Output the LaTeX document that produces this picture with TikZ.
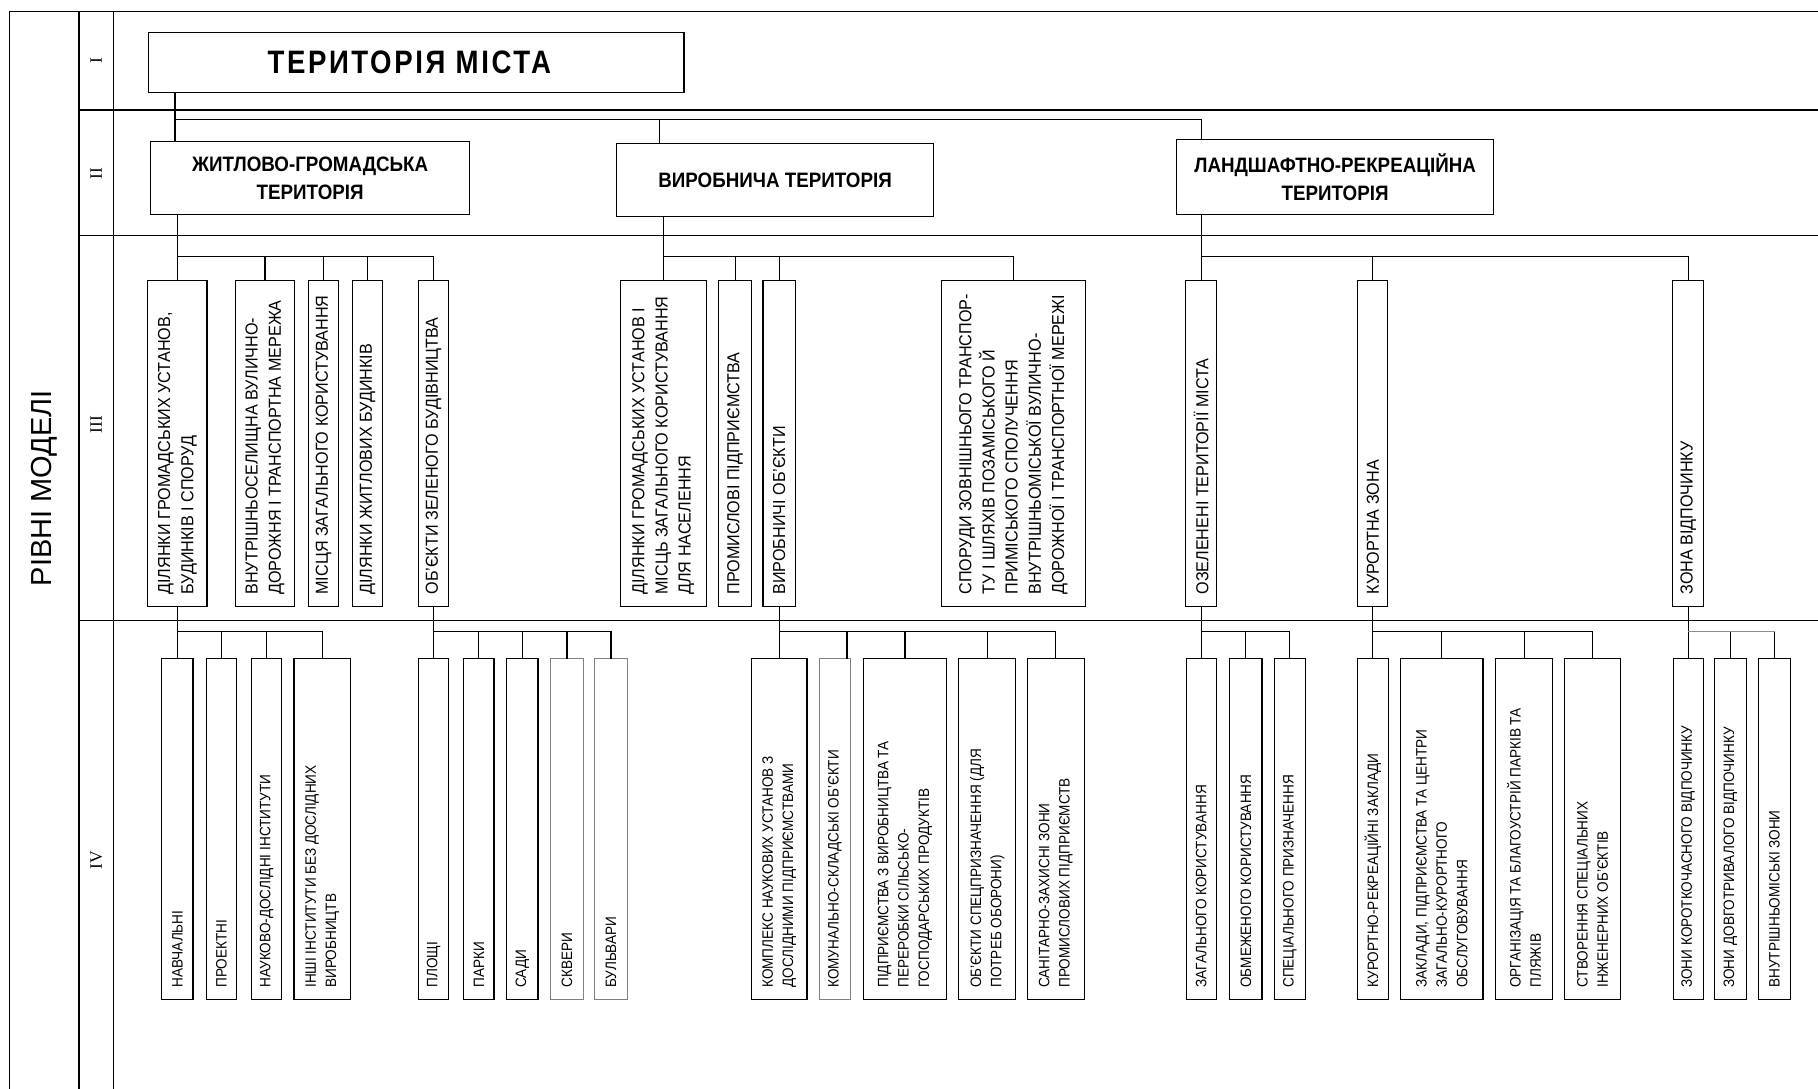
\documentclass[tikz,border=0pt]{standalone}
\usepackage{fontspec}
\setmainfont{Liberation Sans}
\newfontfamily\nrw[FakeStretch=0.9]{Liberation Sans}
\newfontfamily\nrwc[FakeStretch=0.93]{Liberation Sans}
\newfontfamily\ttlfont[FakeStretch=0.85,LetterSpace=8]{Liberation Sans}
\newfontfamily\serifrm{Liberation Serif}
\usetikzlibrary{calc}
\begin{document}
\begin{tikzpicture}[x=1pt,y=-1pt,
  frame/.style={line width=1.2pt},
  box/.style={draw=black, line width=1pt, fill=white, inner sep=0pt, outer sep=0pt},
  gbox/.style={box, draw=black!50},
  l3/.style={box, minimum height=281pt},
  l4/.style={box, minimum height=294pt},
  gl4/.style={gbox, minimum height=294pt},
  conn/.style={line width=1pt},
  gconn/.style={line width=1pt, draw=black!45},
  t2/.style={align=center, font=\nrw\bfseries\fontsize{18}{24}\selectfont},
  t3/.style={rotate=90, anchor=west, align=left, inner sep=0pt, font=\nrwc\fontsize{15}{20}\selectfont},
  t4/.style={rotate=90, anchor=west, align=left, inner sep=0pt, font=\nrw\fontsize{13}{17.5}\selectfont},
  rn/.style={rotate=90, font=\serifrm\fontsize{15}{15}\selectfont},
]
\useasboundingbox (0,0) rectangle (1568,939);
% ---------- frame ----------
\draw[frame] (1568,10) -- (8,10) -- (8,939);
\draw[frame] (68,10) -- (68,939);
\draw[frame] (98,10) -- (98,939);
\draw[frame] (68,95) -- (1568,95);
\draw[frame] (68,203) -- (1568,203);
\draw[frame] (68,535) -- (1568,535);
\node[rotate=90, font=\fontsize{25}{25}\selectfont] (lvl) at (38,421) {РІВНІ МОДЕЛІ};
\node[rn] (r1) at (83,52) {I};
\node[rn] (r2) at (83,150) {II};
\node[rn] (r3) at (83,366) {III};
\node[rn] (r4) at (83,742) {IV};
% ---------- level I ----------
\node[box, minimum width=462pt, minimum height=52pt, font=\ttlfont\bfseries\fontsize{28}{28}\selectfont] (T) at (359,54) {\hspace*{-12pt}ТЕРИТОРІЯ МІСТА};
% ---------- level II ----------
\node[box, t2, minimum width=275pt, minimum height=63pt] (L2a) at (267.5,153.5) {ЖИТЛОВО-ГРОМАДСЬКА\\ТЕРИТОРІЯ};
\node[box, t2, minimum width=273pt, minimum height=63pt] (L2b) at (668.5,155.5) {ВИРОБНИЧА ТЕРИТОРІЯ};
\node[box, t2, minimum width=273pt, minimum height=65pt] (L2c) at (1151.5,152.5) {ЛАНДШАФТНО-РЕКРЕАЦІЙНА\\ТЕРИТОРІЯ};
% ---------- level III ----------
\node[l3, minimum width=51pt] (a1) at (153,382.5) {};
\node[l3, minimum width=51pt] (a2) at (228.5,382.5) {};
\node[l3, minimum width=26pt] (a3) at (279,382.5) {};
\node[l3, minimum width=26pt] (a4) at (317,382.5) {};
\node[l3, minimum width=26pt] (a5) at (374,382.5) {};
\node[l3, minimum width=74pt] (b1) at (572,382.5) {};
\node[l3, minimum width=28pt] (b2) at (634,382.5) {};
\node[l3, minimum width=28pt] (b3) at (672,382.5) {};
\node[l3, minimum width=124pt] (b4) at (874,382.5) {};
\node[l3, minimum width=27pt] (c1) at (1036,382.5) {};
\node[l3, minimum width=26pt] (c2) at (1184,382.5) {};
\node[l3, minimum width=27pt] (c3) at (1456,382.5) {};
\node[t3] (a1t) at ([yshift=10pt]a1.south) {ДІЛЯНКИ ГРОМАДСЬКИХ УСТАНОВ,\\БУДИНКІВ І СПОРУД};
\node[t3] (a2t) at ([yshift=10pt]a2.south) {ВНУТРІШНЬОСЕЛИЩНА ВУЛИЧНО-\\ДОРОЖНЯ І ТРАНСПОРТНА МЕРЕЖА};
\node[t3] (a3t) at ([yshift=10pt]a3.south) {МІСЦЯ ЗАГАЛЬНОГО КОРИСТУВАННЯ};
\node[t3] (a4t) at ([yshift=10pt]a4.south) {ДІЛЯНКИ ЖИТЛОВИХ БУДИНКІВ};
\node[t3] (a5t) at ([yshift=10pt]a5.south) {ОБ’ЄКТИ ЗЕЛЕНОГО БУДІВНИЦТВА};
\node[t3] (b1t) at ([yshift=10pt]b1.south) {ДІЛЯНКИ ГРОМАДСЬКИХ УСТАНОВ І\\МІСЦЬ ЗАГАЛЬНОГО КОРИСТУВАННЯ\\ДЛЯ НАСЕЛЕННЯ};
\node[t3] (b2t) at ([yshift=10pt]b2.south) {ПРОМИСЛОВІ ПІДПРИЄМСТВА};
\node[t3] (b3t) at ([yshift=10pt]b3.south) {ВИРОБНИЧІ ОБ’ЄКТИ};
\node[t3] (b4t) at ([yshift=10pt]b4.south) {СПОРУДИ ЗОВНІШНЬОГО ТРАНСПОР-\\ТУ І ШЛЯХІВ ПОЗАМІСЬКОГО Й\\ПРИМІСЬКОГО СПОЛУЧЕННЯ\\ВНУТРІШНЬОМІСЬКОЇ ВУЛИЧНО-\\ДОРОЖНОЇ І ТРАНСПОРТНОЇ МЕРЕЖІ};
\node[t3] (c1t) at ([yshift=10pt]c1.south) {ОЗЕЛЕНЕНІ ТЕРИТОРІЇ МІСТА};
\node[t3] (c2t) at ([yshift=10pt]c2.south) {КУРОРТНА ЗОНА};
\node[t3] (c3t) at ([yshift=10pt]c3.south) {ЗОНА ВІДПОЧИНКУ};
% ---------- level IV ----------
\node[l4, minimum width=27pt] (d1) at (153,715) {};
\node[l4, minimum width=26pt] (d2) at (191,715) {};
\node[l4, minimum width=26pt] (d3) at (230,715) {};
\node[l4, minimum width=49pt] (d4) at (278,715) {};
\node[l4, minimum width=26pt] (e1) at (374,715) {};
\node[l4, minimum width=26pt] (e2) at (413,715) {};
\node[l4, minimum width=27pt] (e3) at (450.5,715) {};
\node[gl4, minimum width=28pt] (e4) at (489,715) {};
\node[gl4, minimum width=28pt] (e5) at (527,715) {};
\node[l4, minimum width=48pt] (f1) at (672,715) {};
\node[gl4, minimum width=27pt] (f2) at (720,715) {};
\node[l4, minimum width=72pt] (f3) at (780.5,715) {};
\node[l4, minimum width=49pt] (f4) at (851.5,715) {};
\node[l4, minimum width=49pt] (f5) at (910.5,715) {};
\node[l4, minimum width=26pt] (g1) at (1036,715) {};
\node[l4, minimum width=28pt] (g2) at (1074.5,715) {};
\node[l4, minimum width=27pt] (g3) at (1112.5,715) {};
\node[l4, minimum width=27pt] (h1) at (1184,715) {};
\node[l4, minimum width=71pt] (h2) at (1243.5,715) {};
\node[l4, minimum width=49pt] (h3) at (1314.5,715) {};
\node[l4, minimum width=49pt] (h4) at (1373.5,715) {};
\node[l4, minimum width=26pt] (k1) at (1456,715) {};
\node[l4, minimum width=28pt] (k2) at (1492.5,715) {};
\node[l4, minimum width=27pt] (k3) at (1530.5,715) {};
\node[t4] (d1t) at ([yshift=10pt]d1.south) {НАВЧАЛЬНІ};
\node[t4] (d2t) at ([yshift=10pt]d2.south) {ПРОЕКТНІ};
\node[t4] (d3t) at ([yshift=10pt]d3.south) {НАУКОВО-ДОСЛІДНІ ІНСТИТУТИ};
\node[t4] (d4t) at ([yshift=10pt]d4.south) {ІНШІ ІНСТИТУТИ БЕЗ ДОСЛІДНИХ\\ВИРОБНИЦТВ};
\node[t4] (e1t) at ([yshift=10pt]e1.south) {ПЛОЩІ};
\node[t4] (e2t) at ([yshift=10pt]e2.south) {ПАРКИ};
\node[t4] (e3t) at ([yshift=10pt]e3.south) {САДИ};
\node[t4] (e4t) at ([yshift=10pt]e4.south) {СКВЕРИ};
\node[t4] (e5t) at ([yshift=10pt]e5.south) {БУЛЬВАРИ};
\node[t4] (f1t) at ([yshift=10pt]f1.south) {КОМПЛЕКС НАУКОВИХ УСТАНОВ З\\ДОСЛІДНИМИ ПІДПРИЄМСТВАМИ};
\node[t4] (f2t) at ([yshift=10pt]f2.south) {КОМУНАЛЬНО-СКЛАДСЬКІ ОБ’ЄКТИ};
\node[t4] (f3t) at ([yshift=10pt]f3.south) {ПІДПРИЄМСТВА З ВИРОБНИЦТВА ТА\\ПЕРЕРОБКИ СІЛЬСЬКО-\\ГОСПОДАРСЬКИХ ПРОДУКТІВ};
\node[t4] (f4t) at ([yshift=10pt]f4.south) {ОБ’ЄКТИ СПЕЦПРИЗНАЧЕННЯ (ДЛЯ\\ПОТРЕБ ОБОРОНИ)};
\node[t4] (f5t) at ([yshift=10pt]f5.south) {САНІТАРНО-ЗАХИСНІ ЗОНИ\\ПРОМИСЛОВИХ ПІДПРИЄМСТВ};
\node[t4] (g1t) at ([yshift=10pt]g1.south) {ЗАГАЛЬНОГО КОРИСТУВАННЯ};
\node[t4] (g2t) at ([yshift=10pt]g2.south) {ОБМЕЖЕНОГО КОРИСТУВАННЯ};
\node[t4] (g3t) at ([yshift=10pt]g3.south) {СПЕЦІАЛЬНОГО ПРИЗНАЧЕННЯ};
\node[t4] (h1t) at ([yshift=10pt]h1.south) {КУРОРТНО-РЕКРЕАЦІЙНІ ЗАКЛАДИ};
\node[t4] (h2t) at ([yshift=10pt]h2.south) {ЗАКЛАДИ, ПІДПРИЄМСТВА ТА ЦЕНТРИ\\ЗАГАЛЬНО-КУРОРТНОГО\\ОБСЛУГОВУВАННЯ};
\node[t4] (h3t) at ([yshift=10pt]h3.south) {ОРГАНІЗАЦІЯ ТА БЛАГОУСТРІЙ ПАРКІВ ТА\\ПЛЯЖІВ};
\node[t4] (h4t) at ([yshift=10pt]h4.south) {СТВОРЕННЯ СПЕЦІАЛЬНИХ\\ІНЖЕНЕРНИХ ОБ’ЄКТІВ};
\node[t4] (k1t) at ([yshift=10pt]k1.south) {ЗОНИ КОРОТКОЧАСНОГО ВІДПОЧИНКУ};
\node[t4] (k2t) at ([yshift=10pt]k2.south) {ЗОНИ ДОВГОТРИВАЛОГО ВІДПОЧИНКУ};
\node[t4] (k3t) at ([yshift=10pt]k3.south) {ВНУТРІШНЬОМІСЬКІ ЗОНИ};
% ---------- connectors I -> II ----------
\coordinate (j1) at (151,103);
\coordinate (j2) at (569,103);
\coordinate (j3) at (1036,103);
\draw[conn] (T.south -| j1) -- (L2a.north -| j1);
\draw[conn] (j1) -- (j3) -- (L2c.north -| j3);
\draw[conn] (j2) -- (L2b.north -| j2);
% ---------- connectors II -> III ----------
\coordinate (m3) at (0,221);
\draw[conn] (L2a.south -| a1.north) -- (a1.north);
\draw[conn] (a1.north |- m3) -| (a5.north);
\foreach \c in {a2,a3,a4} \draw[conn] (\c.north |- m3) -- (\c.north);
\draw[conn] (L2b.south -| b1.north) -- (b1.north);
\draw[conn] (b1.north |- m3) -| (b4.north);
\foreach \c in {b2,b3} \draw[conn] (\c.north |- m3) -- (\c.north);
\draw[conn] (L2c.south -| c1.north) -- (c1.north);
\draw[conn] (c1.north |- m3) -| (c3.north);
\draw[conn] (c2.north |- m3) -- (c2.north);
% ---------- connectors III -> IV ----------
\coordinate (m4) at (0,545);
\draw[conn] (a1.south) -- (d1.north);
\draw[conn] (d1.north |- m4) -| (d4.north);
\foreach \c in {d2,d3} \draw[conn] (\c.north |- m4) -- (\c.north);
\draw[conn] (a5.south) -- (e1.north);
\draw[conn] (e1.north |- m4) -| (e5.north);
\foreach \c in {e2,e3,e4} \draw[conn] (\c.north |- m4) -- (\c.north);
\coordinate (f2c) at ([xshift=-3pt]f2.north east);
\draw[conn] (b3.south) -- (f1.north);
\draw[conn] (f1.north |- m4) -| (f5.north);
\draw[conn] (f2c |- m4) -- (f2c);
\foreach \c in {f3,f4} \draw[conn] (\c.north |- m4) -- (\c.north);
\draw[conn] (c1.south) -- (g1.north);
\draw[conn] (g1.north |- m4) -| (g3.north);
\draw[conn] (g2.north |- m4) -- (g2.north);
\draw[conn] (c2.south) -- (h1.north);
\draw[conn] (h1.north |- m4) -| (h4.north);
\foreach \c in {h2,h3} \draw[conn] (\c.north |- m4) -- (\c.north);
\draw[conn] (c3.south) -- (k1.north);
\draw[gconn] (k1.north |- m4) -- (k3.north |- m4);
\foreach \c in {k2,k3} \draw[conn] (\c.north |- m4) -- (\c.north);
\end{tikzpicture}
\end{document}
